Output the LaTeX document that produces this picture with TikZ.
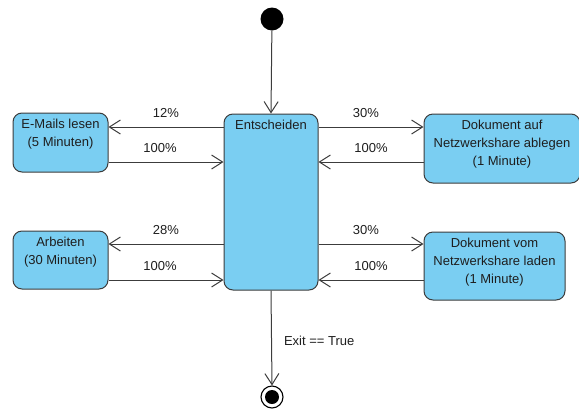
\documentclass[tikz,border=0pt]{standalone}
\usepackage{fontspec}
\setmainfont{Liberation Sans}
\usetikzlibrary{arrows.meta,calc}
\definecolor{statefill}{RGB}{122,206,242}
\definecolor{edge}{RGB}{60,60,60}
\definecolor{ink}{RGB}{30,30,30}
\tikzset{
  every node/.style={font=\fontsize{13}{18}\selectfont, text=ink},
  state/.style={draw=edge, fill=statefill, line width=1pt, rounded corners=9pt,
    inner sep=0pt},
  caption/.style={anchor=north, align=center, inner sep=0pt, yshift=-6pt},
  flow/.style={draw=edge, line width=1pt, -{Straight Barb[length=11pt,width=14pt,line width=1pt]}},
  pct/.style={midway, above=9pt, inner sep=0pt}
}
\begin{document}
\begin{tikzpicture}[x=1pt, y=-1pt]
  \useasboundingbox (0,0) rectangle (579,408);

  % initial and final pseudo-states
  \node[circle, fill=black, minimum size=23pt, inner sep=0pt] (start) at (272,19) {};
  \node[circle, draw=black, line width=1.1pt, minimum size=22pt, inner sep=0pt] (stop) at (272,397) {};
  \fill[black] (stop.center) circle (7pt);

  % states
  \node[state, minimum width=94pt, minimum height=176pt] (ent) at (271,202) {};
  \node[caption] at (ent.north) {Entscheiden};

  \node[state, minimum width=95pt, minimum height=59pt] (mail) at (60.5,142.5) {};
  \node[caption] at (mail.north) {E-Mails lesen\\(5 Minuten)};

  \node[state, minimum width=95pt, minimum height=58pt] (arb) at (60.5,260) {};
  \node[caption] at (arb.north) {Arbeiten\\(30 Minuten)};

  \node[state, minimum width=156pt, minimum height=69pt] (auf) at (502,148.5) {};
  \node[caption] at (auf.north) {Dokument auf\\Netzwerkshare ablegen\\(1 Minute)};

  \node[state, minimum width=141pt, minimum height=68pt] (vom) at (494.5,266) {};
  \node[caption] at (vom.north) {Dokument vom\\Netzwerkshare laden\\(1 Minute)};

  % transitions
  \draw[flow] (start) -- (ent.north);

  \draw[flow] (ent.west |- 0,127) -- (mail.east |- 0,127) node[pct] {12\%};
  \draw[flow] (mail.east |- 0,162) -- (ent.west |- 0,162) node[pct, xshift=-6pt] {100\%};
  \draw[flow] (ent.west |- 0,244) -- (arb.east |- 0,244) node[pct] {28\%};
  \draw[flow] (arb.east |- 0,280) -- (ent.west |- 0,280) node[pct, xshift=-6pt] {100\%};

  \draw[flow] (ent.east |- 0,127) -- (auf.west |- 0,127) node[pct, xshift=-5pt] {30\%};
  \draw[flow] (auf.west |- 0,162) -- (ent.east |- 0,162) node[pct] {100\%};
  \draw[flow] (ent.east |- 0,244) -- (vom.west |- 0,244) node[pct, xshift=-5pt] {30\%};
  \draw[flow] (vom.west |- 0,280) -- (ent.east |- 0,280) node[pct] {100\%};

  \draw[flow] (ent.south) -- (stop.north) node[pos=0.53, right=12pt, inner sep=0pt] {Exit == True};
\end{tikzpicture}
\end{document}
